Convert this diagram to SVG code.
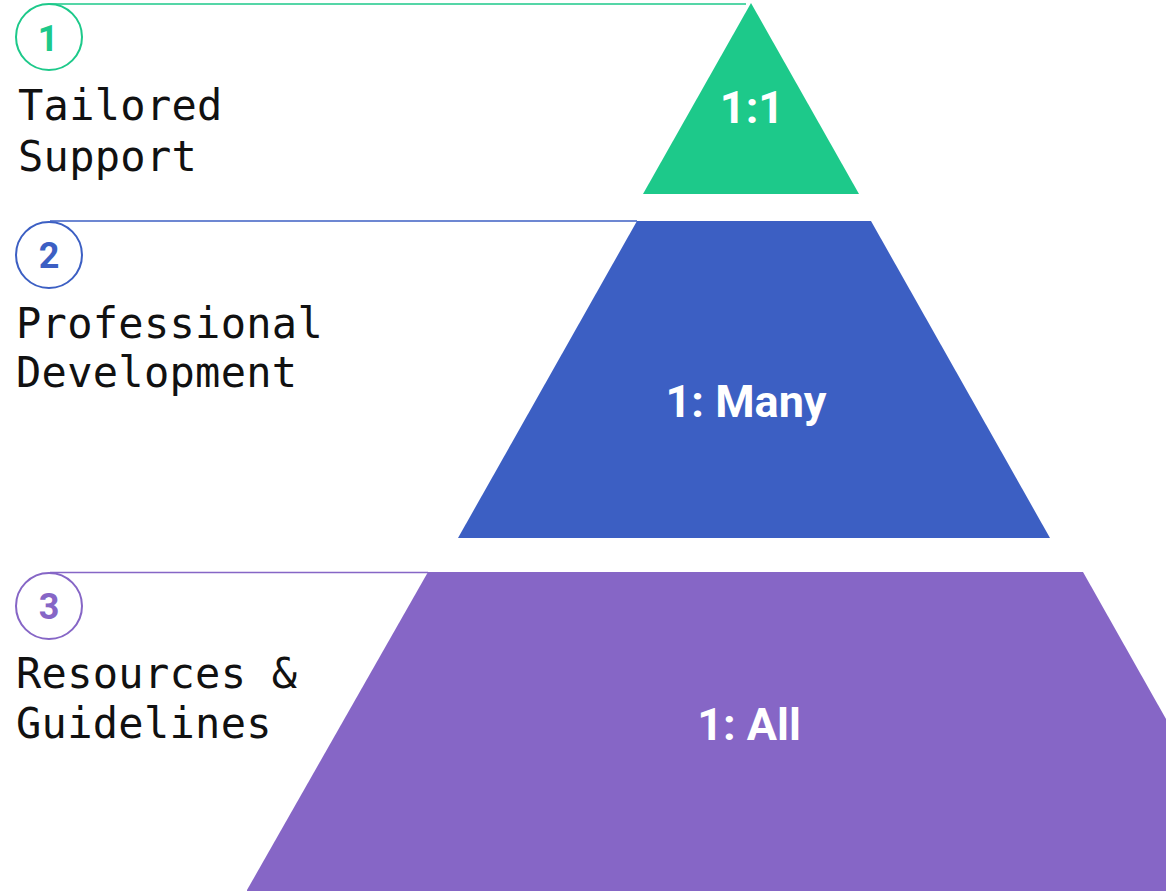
<svg xmlns="http://www.w3.org/2000/svg" width="1166" height="891" viewBox="0 0 1166 891">
<style>
.lbl{font-family:"DejaVu Sans Mono","Liberation Mono",monospace;font-size:42px;letter-spacing:0.3px;fill:#111;}
.num{font-family:Roboto,"Liberation Sans",sans-serif;font-weight:bold;font-size:36px;text-anchor:middle;}
.mid{font-family:Roboto,"Liberation Sans",sans-serif;font-weight:bold;font-size:45px;fill:#fff;text-anchor:middle;}
.circ{fill:#fff;stroke-width:2;}
.conn{stroke-width:1.5;fill:none;}
</style>
<rect width="1166" height="891" fill="#fff"/>
<g id="connectors">
<line class="conn" x1="50" y1="4" x2="746" y2="4" stroke="#1DC98A"/>
<line class="conn" x1="50" y1="221" x2="637" y2="221" stroke="#3C5FC3"/>
<line class="conn" x1="50" y1="572.5" x2="428" y2="572.5" stroke="#8666C6"/>
</g>
<g id="tier1">
<polygon points="751,3 859,194 643,194" fill="#1DC98A"/>
<text class="mid" x="752" y="123">1:1</text>
</g>
<g id="tier2">
<polygon points="637,221 871,221 1050,538 458,538" fill="#3C5FC3"/>
<text class="mid" x="746" y="417">1: Many</text>
</g>
<g id="tier3">
<polygon points="428,572 1083,572 1166,719 1166,891 247,891 247,890" fill="#8666C6"/>
<text class="mid" x="749" y="740">1: All</text>
</g>
<g id="label1">
<circle class="circ" cx="49" cy="37" r="33" stroke="#1DC98A"/>
<text class="num" x="48" y="51" fill="#1DC98A">1</text>
<text class="lbl" x="18" y="120">Tailored</text>
<text class="lbl" x="18" y="171">Support</text>
</g>
<g id="label2">
<circle class="circ" cx="49" cy="255" r="33" stroke="#3C5FC3"/>
<text class="num" x="49" y="268" fill="#3C5FC3">2</text>
<text class="lbl" x="16" y="338">Professional</text>
<text class="lbl" x="16" y="387">Development</text>
</g>
<g id="label3">
<circle class="circ" cx="49" cy="606" r="33" stroke="#8666C6"/>
<text class="num" x="49" y="619" fill="#8666C6">3</text>
<text class="lbl" x="16" y="688">Resources &amp;</text>
<text class="lbl" x="16" y="738">Guidelines</text>
</g>
</svg>
